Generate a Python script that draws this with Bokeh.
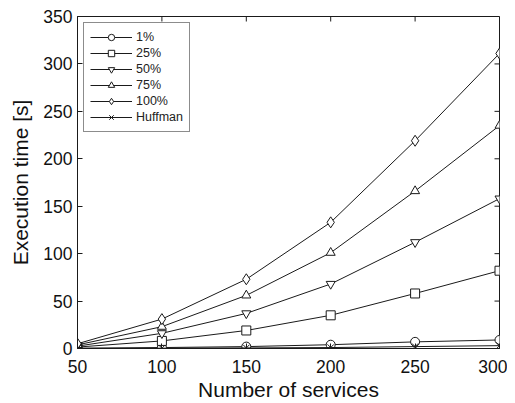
from bokeh.plotting import figure
from bokeh.models import Range1d, Legend, LegendItem, FixedTicker
from bokeh.embed import file_html
from bokeh.resources import INLINE

services = [50, 100, 150, 200, 250, 300]
p1 = [0.3, 1, 2, 4, 7, 9]
p25 = [1.5, 8, 19, 35, 58, 82]
p50 = [2.5, 16, 37, 68, 112, 158]
p75 = [3.8, 23, 56, 101, 166, 235]
p100 = [5, 31, 73, 133, 219, 311]
huffman = [0.1, 0.3, 0.6, 1, 2, 3]

x_ticks = [50, 100, 150, 200, 250, 300]
y_ticks = [0, 50, 100, 150, 200, 250, 300, 350]

series = [
    ("1%", p1, "circle"),
    ("25%", p25, "square"),
    ("50%", p50, "inverted_triangle"),
    ("75%", p75, "triangle"),
    ("100%", p100, "diamond"),
    ("Huffman", huffman, "x"),
]

FONT = "Liberation Sans"
LC = "#1a1a1a"
TC = "#111111"

W, H = 507, 403
BL, BR, BT, BB = 77, 8, 16, 55
XMIN, XMAX, YMIN, YMAX = 50, 300, 0, 350

p = figure(width=W, height=H, output_backend="svg", toolbar_location=None,
           x_range=Range1d(XMIN, XMAX), y_range=Range1d(YMIN, YMAX),
           min_border_left=BL, min_border_right=BR, min_border_top=BT, min_border_bottom=BB)
p.grid.visible = False
p.outline_line_color = LC
p.outline_line_width = 1

items = []
for name, ys, marker in series:
    r1 = p.line(services, ys, line_color=LC, line_width=1)
    size = 9 if marker != "diamond" else 11
    r2 = p.scatter(services, ys, marker=marker, size=size, line_color=LC,
                   fill_color="white", fill_alpha=0 if marker == "x" else 1, line_width=1)
    items.append(LegendItem(label=name, renderers=[r1, r2]))

# inward ticks on the top and right edges (mirroring the bottom/left axes)
tick_px = 5
frame_w = W - BL - BR
frame_h = H - BT - BB
dx = tick_px * (XMAX - XMIN) / frame_w
dy = tick_px * (YMAX - YMIN) / frame_h
p.segment(x0=x_ticks, y0=[YMAX] * len(x_ticks), x1=x_ticks, y1=[YMAX - dy] * len(x_ticks),
          line_color=LC, line_width=1)
p.segment(x0=[XMAX] * len(y_ticks), y0=y_ticks, x1=[XMAX - dx] * len(y_ticks), y1=y_ticks,
          line_color=LC, line_width=1)

for ax, t in ((p.xaxis[0], x_ticks), (p.yaxis[0], y_ticks)):
    ax.ticker = FixedTicker(ticks=t)
    ax.major_tick_in = tick_px
    ax.major_tick_out = 0
    ax.minor_tick_line_color = None
    ax.axis_line_color = LC
    ax.major_tick_line_color = LC
    ax.major_label_text_font = FONT
    ax.major_label_text_font_size = "17.5px"
    ax.major_label_text_color = TC
    ax.axis_label_text_font = FONT
    ax.axis_label_text_font_size = "21px"
    ax.axis_label_text_font_style = "normal"
    ax.axis_label_text_color = TC

p.xaxis.axis_label = "Number of services"
p.yaxis.axis_label = "Execution time [s]"
p.xaxis.major_label_standoff = 11
p.yaxis.major_label_standoff = 5
p.xaxis.axis_label_standoff = 2
p.yaxis.axis_label_standoff = 8

legend = Legend(items=items, location="top_left", margin=6, padding=6, spacing=0,
                glyph_width=42, glyph_height=16, label_height=16, label_standoff=4,
                label_text_font=FONT, label_text_font_size="12.5px", label_text_color="#222222",
                border_line_color=LC, border_line_width=1, background_fill_alpha=1)
p.add_layout(legend)

open("out.html", "w").write(file_html(p, INLINE))
